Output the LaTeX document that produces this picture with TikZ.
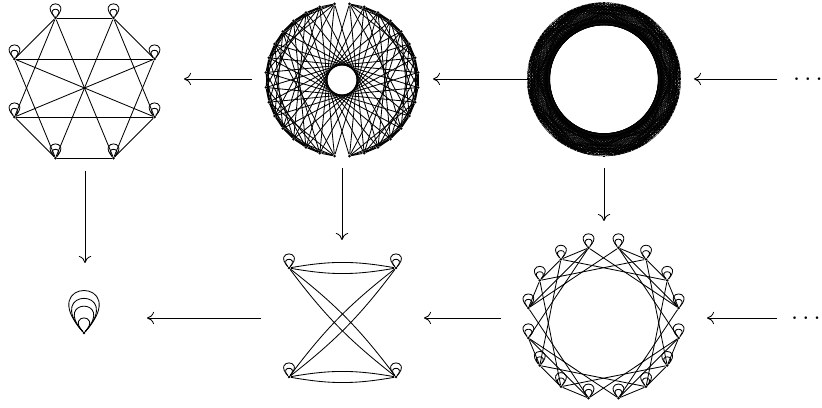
\documentclass[tikz,border=0pt]{standalone}
\usepackage{amsmath,amssymb}
\usepackage{tikz}
\usetikzlibrary{arrows.meta}

\begin{document}
\begin{tikzpicture}[x=0.02cm,y=0.02cm,
      vx/.style={circle,fill=black,inner sep=0pt,minimum size=1.7pt},
      vs/.style={circle,fill=black,inner sep=0pt,minimum size=0.5pt},
      ln/.style={black,line width=0.48pt},
      fn/.style={black,line width=0.3pt},
      lpa/.style={ln,out=48,in=132,distance=#1},
      ar/.style={black,line width=0.48pt,-{Computer Modern Rightarrow[length=4pt,width=7pt]}},
      dt/.style={inner sep=0pt,font=\fontsize{15}{15}\selectfont}]
    \useasboundingbox (0,0) rectangle (822,408);
    % one vertex, four loops
    \node[vx] (p) at (84,75) {};
    \foreach \d in {14,26,34,42} \draw[lpa=\d*1.0pt] (p) to (p);
    % four vertices
    \node[vx] (a) at (289,140) {};
    \node[vx] (b) at (396,140) {};
    \node[vx] (c) at (289,31) {};
    \node[vx] (d) at (396,31) {};
    \foreach \v in {a,b,c,d} {
      \draw[lpa=13pt] (\v) to (\v);
      \draw[lpa=7.5pt] (\v) to (\v);
    }
    \draw[ln] (a) to[bend left=10] (b); \draw[ln] (a) to[bend right=10] (b);
    \draw[ln] (c) to[bend left=10] (d); \draw[ln] (c) to[bend right=10] (d);
    \draw[ln] (a) to[bend left=7.5] (d); \draw[ln] (a) to[bend right=7.5] (d);
    \draw[ln] (b) to[bend left=7.5] (c); \draw[ln] (b) to[bend right=7.5] (c);
    % eight vertices
    \foreach \i in {0,...,7} {
      \node[vx] (v\i) at ({84.5+75.8*cos(67.5+45*\i)},{320+75.8*sin(67.5+45*\i)}) {};
      \draw[lpa=13pt] (v\i) to (v\i);
      \draw[lpa=7.5pt] (v\i) to (v\i);
    }
    \foreach \a/\b in {0/1,4/5,1/2,0/7,3/4,5/6,2/7,3/6,2/6,3/7,0/4,1/5,1/3,0/6,2/4,5/7}
      \draw[ln] (v\a) -- (v\b);
    % sixteen vertices
    \foreach \i in {0,...,15} {
      \node[vx] (w\i) at ({603.5+76.6*cos(78.75+22.5*\i)},{85+76.6*sin(78.75+22.5*\i)}) {};
      \draw[lpa=13pt] (w\i) to (w\i);
      \draw[lpa=7.5pt] (w\i) to (w\i);
    }
    \foreach \i in {0,...,15} {
      \pgfmathtruncatemacro{\j}{mod(\i+4,16)}
      \draw[ln] (w\i) -- (w\j);
    }
    \foreach \a/\b in {1/2,2/3,3/4,1/4,5/6,6/7,7/8,5/8,9/10,10/11,11/12,9/12,13/14,14/15,15/0,13/0}
      \draw[ln] (w\a) -- (w\b);
    % thirty-two vertices
    \foreach \i in {0,...,31} {
      \node[vx] (u\i) at ({342+76.4*cos(84.375+11.25*\i)},{328+76.4*sin(84.375+11.25*\i)}) {};
    }
    \foreach \i in {0,...,31} {
      \pgfmathtruncatemacro{\j}{mod(\i+14,32)}
      \draw[ln] (u\i) -- (u\j);
    }
    \foreach \s/\n in {1/15,2/14,3/13,6/10,10/6} {
      \foreach \i in {1,...,\n} {
        \pgfmathtruncatemacro{\j}{\i+\s}
        \pgfmathtruncatemacro{\p}{mod(33-\i,32)}
        \pgfmathtruncatemacro{\q}{mod(33-\j,32)}
        \draw[ln] (u\i) -- (u\j); \draw[ln] (u\p) -- (u\q);
      }
    }
    % a hundred and twenty-eight vertices
    \foreach \i in {0,...,127} {
      \node[vs] (t\i) at ({604+76.7*cos(88.59375+2.8125*\i)},{328.7+76.7*sin(88.59375+2.8125*\i)}) {};
    }
    \foreach \i in {0,...,127} {
      \pgfmathtruncatemacro{\j}{mod(\i+32,128)}
      \pgfmathtruncatemacro{\k}{mod(\i+30,128)}
      \pgfmathtruncatemacro{\r}{mod(\i+1,128)}
      \draw[fn] (t\i) -- (t\j); \draw[fn] (t\i) -- (t\k); \draw[fn] (t\i) -- (t\r);
      \pgfmathtruncatemacro{\c}{mod(\i+3,16)}
      \ifnum\c>5
        \foreach \s in {26,22,18,14,8} {
          \pgfmathtruncatemacro{\e}{mod(\i+\s+3,16)}
          \ifnum\e>5
            \pgfmathtruncatemacro{\m}{mod(\i+\s,128)}
            \draw[fn] (t\i) -- (t\m);
          \fi
        }
      \fi
    }
    % maps
    \foreach \n/\xa/\ya/\xb/\yb in {1/252/329/184/329,2/527/329/433/329,3/777/329/694/329,
        4/261/90/147/90,5/501/90/424/90,6/777/90/707/90,
        7/85/237/85/145,8/342/240/342/168,9/604/240/604/187} {
      \coordinate (s\n) at (\xa,\ya);
      \coordinate (e\n) at (\xb,\yb);
      \draw[ar] (s\n) -- (e\n);
    }
    \node[dt] (dotsa) at (810,328) {$\cdots$};
    \node[dt] (dotsb) at (808,89) {$\cdots$};
  \end{tikzpicture}
\end{document}
